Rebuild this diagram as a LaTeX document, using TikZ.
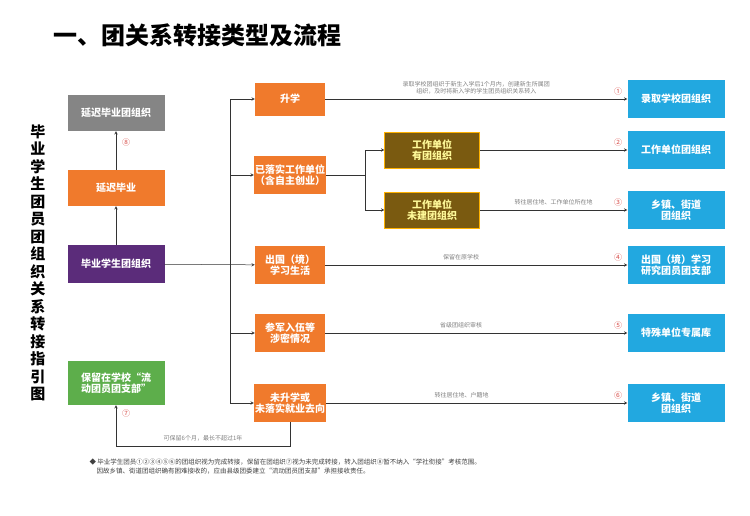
\documentclass[tikz,border=0pt]{standalone}
\usepackage{fontspec}
\setmainfont{Noto Sans CJK SC}
\usetikzlibrary{arrows,positioning,shapes}
\definecolor{boxorange}{HTML}{F07A2C}
\definecolor{boxgray}{HTML}{858585}
\definecolor{boxpurple}{HTML}{5B2C7A}
\definecolor{boxgreen}{HTML}{5DAE4B}
\definecolor{boxbrown}{HTML}{7A5A10}
\definecolor{boxblue}{HTML}{22A8E0}
\definecolor{numred}{HTML}{D9534F}

\tikzset{
  box/.style={rectangle, text=white, align=center, font=\bfseries\fontsize{10}{11.5}\selectfont, inner sep=1pt},
  leftbox/.style={box, minimum width=97pt, minimum height=36pt},
  midbox/.style={box, fill=boxorange, minimum width=70pt, minimum height=38pt},
  workbox/.style={box, fill=boxbrown, draw=orange!60!yellow, text=yellow!40, minimum width=95pt, minimum height=36pt},
  endbox/.style={box, fill=boxblue, minimum width=97pt, minimum height=38pt},
  num/.style={text=numred, font=\fontsize{8}{8}\selectfont},
  note/.style={text=gray, font=\fontsize{6}{7.5}\selectfont, align=center},
  line/.style={line width=0.5pt, draw=black!80}
}

\begin{document}
\begin{tikzpicture}[x=1pt, y=-1pt, >=stealth]
  \useasboundingbox (0,0) rectangle (750,515);

  \node (title) [anchor=west, font=\bfseries\fontsize{24}{24}\selectfont] at (50,35) {一、团关系转接类型及流程};
  \node (side) [align=center, font=\bfseries\fontsize{15}{17.5}\selectfont] at (38,263)
    {毕\\业\\学\\生\\团\\员\\团\\组\\织\\关\\系\\转\\接\\指\\引\\图};

  % left column
  \node[leftbox, fill=boxgray] (delayorg) at (116,113) {延迟毕业团组织};
  \node[leftbox, fill=boxorange] (delay) at (116,188) {延迟毕业};
  \node[leftbox, fill=boxpurple, minimum height=38pt] (grad) at (116,264) {毕业学生团组织};
  \node[leftbox, fill=boxgreen, minimum height=44pt] (keep) at (116,383) {保留在学校“流\\动团员团支部”};
  \node[num] (n8) at (126,142) {⑧};
  \node[num] (n7) at (126,413) {⑦};

  % middle column
  \node[midbox, minimum height=33pt] (study) at (290,99) {升学};
  \node[midbox] (job) at (290,175) {已落实工作单位\\（含自主创业）};
  \node[midbox] (abroad) at (290,265) {出国（境）\\学习生活};
  \node[midbox] (army) at (290,333) {参军入伍等\\涉密情况};
  \node[midbox] (none) at (290,403) {未升学或\\未落实就业去向};

  \node[workbox] (hasorg) at (432,150) {工作单位\\有团组织};
  \node[workbox] (noorg) at (432,210) {工作单位\\未建团组织};

  % right column
  \node[endbox] (e1) at (676,99) {录取学校团组织};
  \node[endbox] (e2) at (676,150) {工作单位团组织};
  \node[endbox] (e3) at (676,210) {乡镇、街道\\团组织};
  \node[endbox] (e4) at (676,265) {出国（境）学习\\研究团员团支部};
  \node[endbox] (e5) at (676,333) {特殊单位专属库};
  \node[endbox] (e6) at (676,403) {乡镇、街道\\团组织};

  \coordinate (fork) at (365,175);
  \coordinate (back) at (290,446);

  % connectors
  \draw[line,->] (grad) -- (delay);
  \draw[line,->] (delay) -- (delayorg);
  \draw[line,->] (grad) -- (abroad);
  \draw[line] (230,99) -- (230,403);
  \foreach \m in {study,job,army,none}
    \draw[line,->] (230,0 |- \m) -- (\m);
  \draw[line] (job) -- (fork);
  \draw[line] (365,150) -- (365,210);
  \draw[line,->] (365,150) -- (hasorg);
  \draw[line,->] (365,210) -- (noorg);

  \draw[line,->] (study) -- node[note, above=1pt] {录取学校团组织于新生入学后1个月内，创建新生所属团\\组织，及时将新入学的学生团员组织关系转入} (e1);
  \draw[line,->] (hasorg) -- (e2);
  \draw[line,->] (noorg) -- node[note, above=1pt] {转往居住地、工作单位所在地} (e3);
  \draw[line,->] (abroad) -- node[note, above=1pt, pos=0.45] {保留在原学校} (e4);
  \draw[line,->] (army) -- node[note, above=1pt, pos=0.45] {省级团组织审核} (e5);
  \draw[line,->] (none) -- node[note, above=1pt, pos=0.45] {转往居住地、户籍地} (e6);
  \draw[line,->] (none) -- (back) -| node[note, above=1pt, pos=0.25] {可保留6个月，最长不超过1年} (keep);

  \foreach \e/\t in {e1/①,e2/②,e3/③,e4/④,e5/⑤,e6/⑥}
    \node[num, above=0pt] at (618,0 |- \e) {\t};

  \node (footnote) [anchor=north west, align=left, text=black!75, font=\fontsize{6.5}{9}\selectfont] at (86,455)
    {◆ 毕业学生团员①②③④⑤⑥的团组织视为完成转接，保留在团组织⑦视为未完成转接，转入团组织⑧暂不纳入“学社衔接”考核范围。\\
    \hspace*{7pt}因故乡镇、街道团组织确有困难接收的，应由县级团委建立“流动团员团支部”承担接收责任。};
\end{tikzpicture}
\end{document}
